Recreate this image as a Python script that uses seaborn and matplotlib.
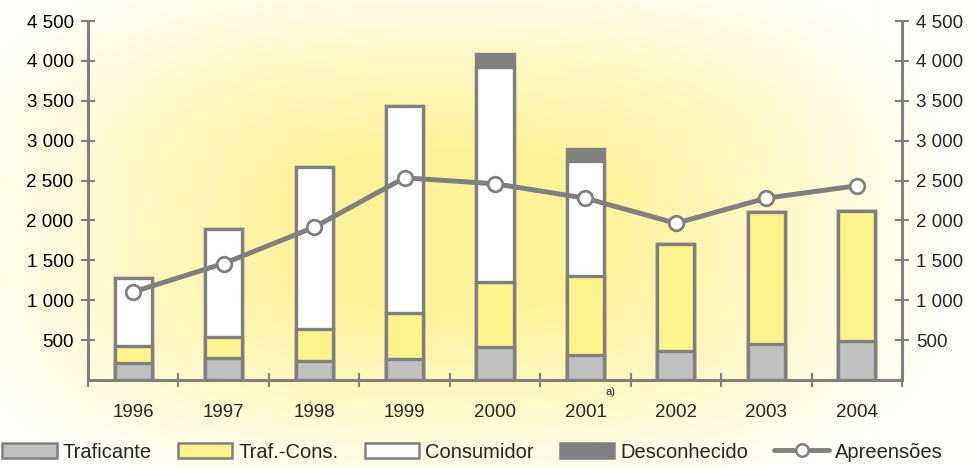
import numpy as np
import pandas as pd
import matplotlib
matplotlib.use("Agg")
import matplotlib.pyplot as plt
import seaborn as sns
from matplotlib.colors import LinearSegmentedColormap
from matplotlib.patches import Patch
from matplotlib.lines import Line2D
from matplotlib.ticker import FuncFormatter, FixedLocator

# ---------------- THEME & COLORS ----------------
sns.set_style("white")
plt.rcParams["font.family"] = ["Liberation Sans", "DejaVu Sans"]

GRAY = "#808080"
LIGHT_GRAY = "#C0C0C0"
YELLOW = "#FFF38C"
WHITE = "#FFFFFF"
DARK = "#808080"

# ---------------- DATA ----------------
years = ["1996", "1997", "1998", "1999", "2000", "2001", "2002", "2003", "2004"]
traficante = [215, 270, 235, 260, 415, 310, 360, 450, 485]
traf_cons = [210, 270, 400, 575, 820, 1000, 1350, 1660, 1640]
consumidor = [860, 1355, 2030, 2595, 2695, 1440, 0, 0, 0]
desconhecido = [0, 0, 0, 0, 155, 140, 0, 0, 0]
apreensoes = [1105, 1460, 1915, 2535, 2460, 2280, 1965, 2280, 2435]

df = pd.DataFrame({
    "year": years,
    "traficante": traficante,
    "traf_cons": traf_cons,
    "consumidor": consumidor,
    "desconhecido": desconhecido,
    "apreensoes": apreensoes,
})
df["c1"] = df["traficante"]
df["c2"] = df["c1"] + df["traf_cons"]
df["c3"] = df["c2"] + df["consumidor"]
df["c4"] = df["c3"] + df["desconhecido"]

# ---------------- FIGURE & BACKGROUND ----------------
fig = plt.figure(figsize=(9.72, 4.68), dpi=100)

bg = fig.add_axes([0, 0, 1, 1], zorder=0)
gx, gy = np.meshgrid(np.linspace(0, 972, 486), np.linspace(0, 468, 234))
dist = ((np.abs(gx - 450) / 500) ** 3 + (np.abs(gy - 230) / 270) ** 3) ** (1 / 3)
glow = np.clip(1 - dist, 0, 1)
cmap = LinearSegmentedColormap.from_list("glow", ["#FFFFFB", "#FFF8C8", "#FFF39A"])
bg.imshow(glow, cmap=cmap, vmin=0, vmax=0.7, aspect="auto",
          extent=[0, 1, 0, 1], origin="upper")
bg.set_axis_off()

ax = fig.add_axes([0.0905, 0.188, 0.8375, 0.767], zorder=1)
ax.set_facecolor("none")

# ---------------- STACKED BARS ----------------
layers = [("c4", DARK), ("c3", WHITE), ("c2", YELLOW), ("c1", LIGHT_GRAY)]
for col, color in layers:
    sns.barplot(data=df, x="year", y=col, color=color, saturation=1,
                edgecolor=GRAY, linewidth=2.4, width=0.41, ax=ax)

# ---------------- LINE ----------------
sns.pointplot(data=df, x="year", y="apreensoes", color=GRAY, markers="o",
              linestyles="-", errorbar=None, ax=ax,
              markersize=10.5, linewidth=3.6,
              markerfacecolor="white", markeredgecolor=GRAY, markeredgewidth=2)
for ln in ax.lines:
    ln.set_zorder(5)

# ---------------- AXES ----------------
ax.set_xlim(-0.5, 8.5)
ax.set_ylim(0, 4500)
ax.set_xlabel("")
ax.set_ylabel("")

for side in ["top", "right"]:
    ax.spines[side].set_visible(False)
for side in ["left", "bottom"]:
    ax.spines[side].set_color(GRAY)
    ax.spines[side].set_linewidth(2.2)

yticks = [500, 1000, 1500, 2000, 2500, 3000, 3500, 4000, 4500]
fmt = FuncFormatter(lambda v, p: f"{int(v):,}".replace(",", " "))
ax.yaxis.set_major_locator(FixedLocator(yticks))
ax.yaxis.set_major_formatter(fmt)
ax.tick_params(axis="y", left=True, direction="inout", length=10.5, width=1.5,
               color=GRAY, labelsize=13.5, pad=5, labelcolor="black")

ax.xaxis.set_minor_locator(FixedLocator(np.arange(-0.5, 9, 1)))
ax.tick_params(axis="x", which="major", length=0, labelsize=13.5, pad=17)
ax.tick_params(axis="x", which="minor", bottom=True, direction="inout",
               length=10.5, width=1.5, color=GRAY)

ax2 = ax.twinx()
ax2.set_ylim(0, 4500)
ax2.yaxis.set_major_locator(FixedLocator(yticks))
ax2.yaxis.set_major_formatter(fmt)
for side in ["top", "left", "bottom"]:
    ax2.spines[side].set_visible(False)
ax2.spines["right"].set_color(GRAY)
ax2.spines["right"].set_linewidth(2.2)
ax2.tick_params(axis="y", right=True, direction="inout", length=10.5, width=1.5,
                color=GRAY, labelsize=13.5, pad=5)
ax2.grid(False)
ax.grid(False)

ax.text(5.28, -150, "a)", fontsize=8, ha="center", va="center")

# ---------------- LEGEND ----------------
handles = [
    Patch(facecolor=LIGHT_GRAY, edgecolor=GRAY, linewidth=1.8, label="Traficante"),
    Patch(facecolor=YELLOW, edgecolor=GRAY, linewidth=1.8, label="Traf.-Cons."),
    Patch(facecolor=WHITE, edgecolor=GRAY, linewidth=1.8, label="Consumidor"),
    Patch(facecolor=DARK, edgecolor=GRAY, linewidth=1.8, label="Desconhecido"),
    Line2D([0], [0], color=GRAY, linewidth=3.5, marker="o", markersize=9,
           markerfacecolor="white", markeredgecolor=GRAY, markeredgewidth=1.8,
           label="Apreensões"),
]
fig.legend(handles=handles, loc="lower center", bbox_to_anchor=(0.486, -0.012),
           ncol=5, frameon=False, fontsize=14.5, handlelength=2.7,
           handleheight=0.7, handletextpad=0.3, columnspacing=1.3,
           borderaxespad=0.2)

fig.savefig("out.png", dpi=100)
